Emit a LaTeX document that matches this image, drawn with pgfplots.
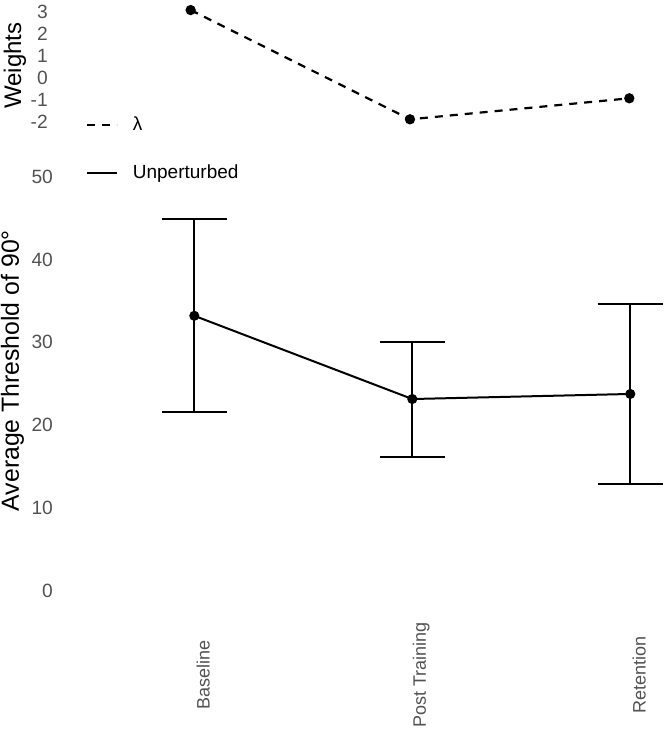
\documentclass[border=0pt]{standalone}
\usepackage{fontspec}
\setmainfont{Liberation Sans}
\usepackage{pgfplots}
\pgfplotsset{compat=1.18}
\pgfplotstableread{
x y ep em
1 33.2 11.7 11.6
2 23.15 6.9 6.95
3 23.76 10.84 10.91
}\bottomdata
\begin{document}
\begin{tikzpicture}
\pgfplotsset{
  every axis/.append style={
   scale only axis, axis line style={draw=none}, tick style={draw=none}, major tick length=0pt,
   /pgf/number format/assume math mode=true,
   tick label style={font=\fontsize{9.6bp}{11bp}\selectfont, text=black!68},
   label style={font=\fontsize{12bp}{14bp}\selectfont},
   clip=false,
   xtick={1,2,3},
   xmin=0.5, xmax=3.15,
  }
}
\begin{axis}[at={(40.5bp,302.35bp)}, anchor=south west, width=290.6bp, height=61.3bp,
  ymin=-2.3, ymax=3.3, ytick={-2,-1,0,1,2,3}, yticklabels={-2,-1,0,1,2,3}, xticklabels={},
  ylabel={Weights}, ylabel style={at={(rel axis cs:-0.1136,0.511)}, anchor=center},
  yticklabel style={anchor=east, inner sep=0pt, xshift=-16.4bp}]
\addplot[black, line width=1.1bp, dash pattern=on 4bp off 3.5bp, mark=*, mark size=2bp, mark options={solid}] coordinates {(1,3.1) (2,-1.89) (3,-0.93)};
\end{axis}
\begin{axis}[at={(42.65bp,62.85bp)}, anchor=south west, width=288.85bp, height=223.6bp,
  ymin=-2, ymax=52, ytick={0,10,20,30,40,50}, yticklabels={0,10,20,30,40,50},
  xticklabels={Baseline,Post Training,Retention},
  xticklabel style={xshift=4.5bp, yshift=-33.85bp, rotate=90, anchor=center, font=\fontsize{9bp}{11bp}\selectfont},
  ylabel={Average Threshold of 90°}, ylabel style={at={(rel axis cs:-0.126,0.529)}, anchor=center, font=\fontsize{12.4bp}{14bp}\selectfont},
  yticklabel style={anchor=east, inner sep=0pt, xshift=-16bp},
  legend style={at={(rel axis cs:0,1.1076)}, anchor=north west, draw=none, fill=none,
    font=\fontsize{9.5bp}{11bp}\selectfont, row sep=12bp, inner sep=0pt},
  legend cell align=left,
  legend image code/.code={\draw[#1] (0bp,0bp) -- (15bp,0bp); \path (20.5bp,0bp);}]
\addlegendimage{black, line width=1.1bp, dash pattern=on 4bp off 3.5bp}
\addlegendentry{λ}
\addlegendimage{black, line width=1bp}
\addlegendentry{Unperturbed}
\addplot[black, line width=1bp, mark=*, mark size=2bp, forget plot,
  error bars/.cd, y dir=both, y explicit, error bar style={line width=1bp},
  error mark options={rotate=90, mark size=16.3bp, line width=1bp}]
  table[x=x, y=y, y error plus=ep, y error minus=em] {\bottomdata};
\end{axis}
\pgfresetboundingbox
\path (0,0) rectangle (334bp,366.5bp);
\end{tikzpicture}
\end{document}
